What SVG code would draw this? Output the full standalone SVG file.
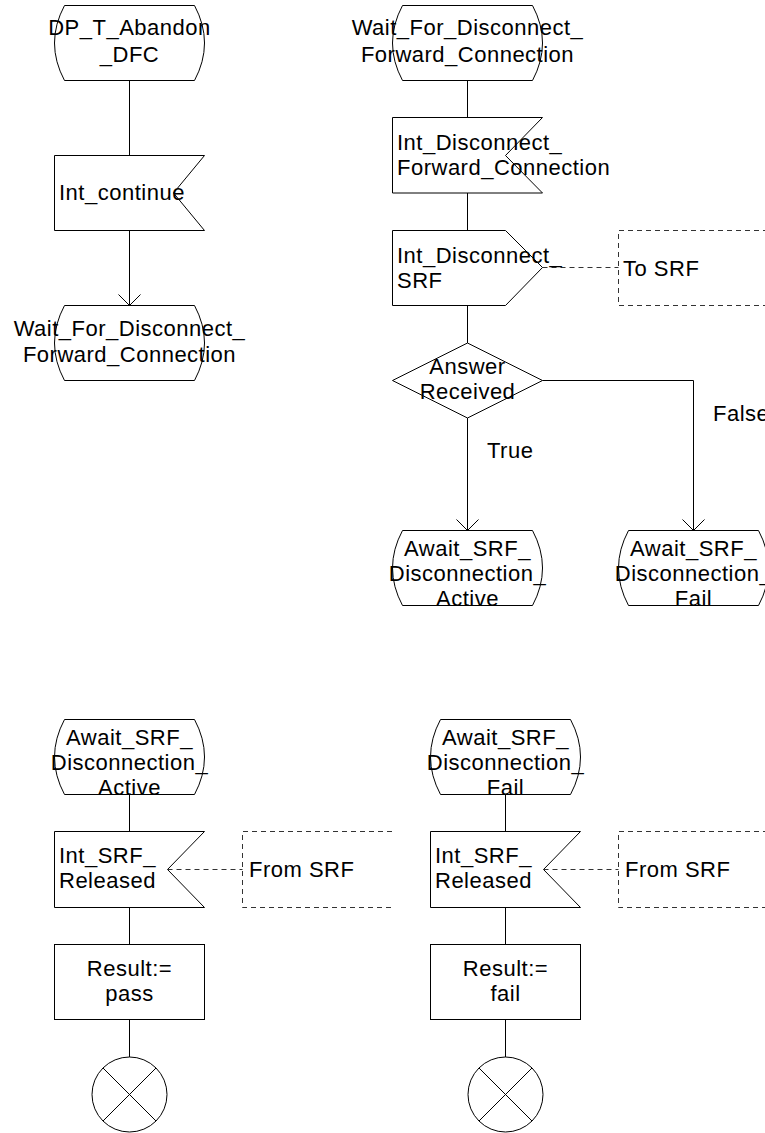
<svg xmlns="http://www.w3.org/2000/svg" width="765" height="1133" viewBox="0 0 765 1133">
<style>
.s{fill:#fff;stroke:#000;stroke-width:1}
.c{fill:none;stroke:#000;stroke-width:1}
.d{fill:none;stroke:#333;stroke-width:1;stroke-dasharray:5,4}
text{font-family:"Liberation Sans",Arial,sans-serif;font-size:22px;letter-spacing:0.5px;fill:#000}
.m{text-anchor:middle}
</style>
<defs>
<marker id="arr" markerUnits="userSpaceOnUse" markerWidth="24" markerHeight="24" refX="12" refY="12" orient="auto" viewBox="0 0 24 24">
<path d="M1,1 L12,12 L1,23" fill="none" stroke="#000" stroke-width="1"/>
</marker>
</defs>
<rect width="765" height="1133" fill="#fff"/>

<g id="connectors">
<path class="c" d="M129.5,80.5 V155.5"/>
<path class="c" d="M129.5,230.5 V305.5" marker-end="url(#arr)"/>
<path class="c" d="M467.5,80.5 V117.5"/>
<path class="c" d="M467.5,193 V230.5"/>
<path class="c" d="M467.5,305.5 V343"/>
<path class="c" d="M467.5,418 V530.5" marker-end="url(#arr)"/>
<path class="c" d="M542.5,380.5 H693.5 V530.5" marker-end="url(#arr)"/>
<path class="d" d="M542.5,267.5 H618.5"/>
<path class="c" d="M129.5,794.5 V831.5"/>
<path class="c" d="M129.5,907.5 V944.5"/>
<path class="c" d="M129.5,1019.5 V1057"/>
<path class="d" d="M167.5,869.5 H242.5"/>
<path class="c" d="M505.5,794.5 V831.5"/>
<path class="c" d="M505.5,907.5 V944.5"/>
<path class="c" d="M505.5,1019.5 V1057"/>
<path class="d" d="M543.5,869.5 H618.5"/>
</g>

<g id="state_dp_t_abandon">
<path class="s" d="M64.5,5.5 H194.5 Q214.5,43 194.5,80.5 H64.5 Q44.5,43 64.5,5.5 Z"/>
<text class="m" x="129.5" y="35">DP_T_Abandon</text>
<text class="m" x="129.5" y="62">_DFC</text>
</g>

<g id="input_int_continue">
<path class="s" d="M54.5,155.5 H204.5 L173.5,193 L204.5,230.5 H54.5 Z"/>
<text x="59" y="200">Int_continue</text>
</g>

<g id="state_wait_left">
<path class="s" d="M64.5,305.5 H194.5 Q214.5,343 194.5,380.5 H64.5 Q44.5,343 64.5,305.5 Z"/>
<text class="m" x="129.5" y="336">Wait_For_Disconnect_</text>
<text class="m" x="129.5" y="362">Forward_Connection</text>
</g>

<g id="state_wait_right">
<path class="s" d="M402.5,5.5 H532.5 Q552.5,43 532.5,80.5 H402.5 Q382.5,43 402.5,5.5 Z"/>
<text class="m" x="467.5" y="35">Wait_For_Disconnect_</text>
<text class="m" x="467.5" y="62">Forward_Connection</text>
</g>

<g id="input_int_disconnect_fc">
<path class="s" d="M392.5,117.5 H542.5 L505.5,155.5 L542.5,193 H392.5 Z"/>
<text x="397" y="150">Int_Disconnect_</text>
<text x="397" y="175">Forward_Connection</text>
</g>

<g id="output_int_disconnect_srf">
<path class="s" d="M392.5,230.5 H505.5 L542.5,267.5 L505.5,305.5 H392.5 Z"/>
<text x="397" y="263">Int_Disconnect_</text>
<text x="397" y="288">SRF</text>
</g>

<g id="comment_to_srf">
<path class="d" d="M768,230.5 H618.5 V305.5 H768"/>
<text x="623" y="276">To SRF</text>
</g>

<g id="decision_answer_received">
<path class="s" d="M467.5,343 L542.5,380.5 L467.5,418 L392.5,380.5 Z"/>
<text class="m" x="467.5" y="374">Answer</text>
<text class="m" x="467.5" y="399">Received</text>
</g>

<g id="label_true"><text x="487" y="458">True</text></g>
<g id="label_false"><text x="713" y="421">False</text></g>

<g id="state_await_active_top">
<path class="s" d="M402.5,530.5 H532.5 Q552.5,568 532.5,605.5 H402.5 Q382.5,568 402.5,530.5 Z"/>
<text class="m" x="467.5" y="556">Await_SRF_</text>
<text class="m" x="467.5" y="581">Disconnection_</text>
<text class="m" x="467.5" y="606">Active</text>
</g>

<g id="state_await_fail_top">
<path class="s" d="M628.5,530.5 H758.5 Q778.5,568 758.5,605.5 H628.5 Q608.5,568 628.5,530.5 Z"/>
<text class="m" x="693.5" y="556">Await_SRF_</text>
<text class="m" x="693.5" y="581">Disconnection_</text>
<text class="m" x="693.5" y="606">Fail</text>
</g>

<g id="state_await_active">
<path class="s" d="M64.5,719.5 H194.5 Q214.5,757 194.5,794.5 H64.5 Q44.5,757 64.5,719.5 Z"/>
<text class="m" x="129.5" y="745">Await_SRF_</text>
<text class="m" x="129.5" y="770">Disconnection_</text>
<text class="m" x="129.5" y="795">Active</text>
</g>

<g id="input_srf_released_left">
<path class="s" d="M54.5,831.5 H204.5 L167.5,869.5 L204.5,907.5 H54.5 Z"/>
<text x="59" y="863">Int_SRF_</text>
<text x="59" y="888">Released</text>
</g>

<g id="comment_from_srf_left">
<path class="d" d="M392,831.5 H242.5 V907.5 H392"/>
<text x="249" y="877">From SRF</text>
</g>

<g id="task_pass">
<rect class="s" x="54.5" y="944.5" width="150" height="75"/>
<text class="m" x="129.5" y="976">Result:=</text>
<text class="m" x="129.5" y="1001">pass</text>
</g>

<g id="stop_left">
<circle class="s" cx="129.5" cy="1094.5" r="37.5"/>
<path class="c" d="M103,1068 L156,1121 M156,1068 L103,1121"/>
</g>

<g id="state_await_fail">
<path class="s" d="M440.5,719.5 H570.5 Q590.5,757 570.5,794.5 H440.5 Q420.5,757 440.5,719.5 Z"/>
<text class="m" x="505.5" y="745">Await_SRF_</text>
<text class="m" x="505.5" y="770">Disconnection_</text>
<text class="m" x="505.5" y="795">Fail</text>
</g>

<g id="input_srf_released_right">
<path class="s" d="M430.5,831.5 H580.5 L543.5,869.5 L580.5,907.5 H430.5 Z"/>
<text x="435" y="863">Int_SRF_</text>
<text x="435" y="888">Released</text>
</g>

<g id="comment_from_srf_right">
<path class="d" d="M768,831.5 H618.5 V907.5 H768"/>
<text x="625" y="877">From SRF</text>
</g>

<g id="task_fail">
<rect class="s" x="430.5" y="944.5" width="150" height="75"/>
<text class="m" x="505.5" y="976">Result:=</text>
<text class="m" x="505.5" y="1001">fail</text>
</g>

<g id="stop_right">
<circle class="s" cx="505.5" cy="1094.5" r="37.5"/>
<path class="c" d="M479,1068 L532,1121 M532,1068 L479,1121"/>
</g>
</svg>
